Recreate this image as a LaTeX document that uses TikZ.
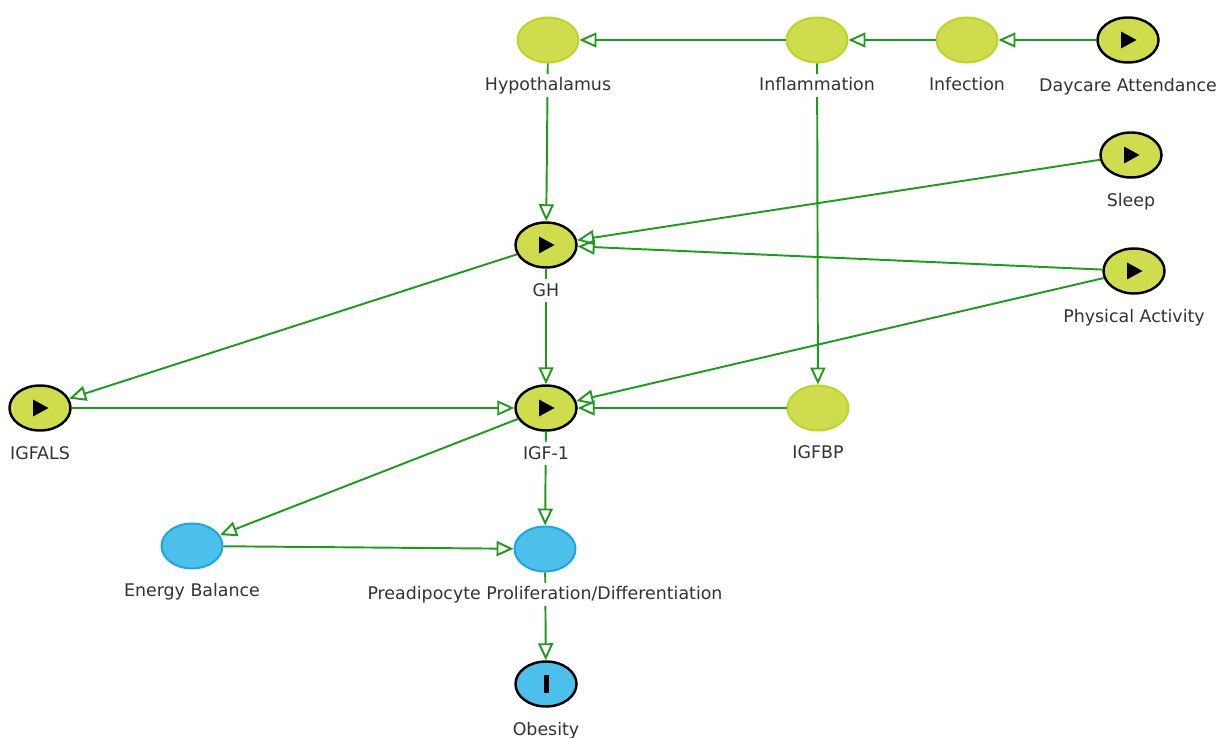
\documentclass[tikz,border=0pt]{standalone}
\usepackage{fontspec}
\setmainfont{DejaVu Sans}
\usetikzlibrary{shapes.geometric,arrows.meta,positioning}

\definecolor{leaffill}{HTML}{CFDC4E}
\definecolor{leafline}{HTML}{BCD42A}
\definecolor{skyfill}{HTML}{4CBFEA}
\definecolor{skyline}{HTML}{1CA5E0}
\definecolor{edgegreen}{HTML}{1E9B1E}
\definecolor{labelgray}{HTML}{333333}

\begin{document}
\begin{tikzpicture}[
      plain/.style={ellipse,
                    draw=leafline,
                    line width=1.1pt,
                    fill=leaffill,
                    inner sep=0pt,
                    minimum width=1.22cm,
                    minimum height=0.9cm},
      ancestor/.style={plain,
                    draw=skyline,
                    fill=skyfill},
      exposure/.style={plain,
                    draw=black,
                    line width=1.4pt,
                    path picture={\fill[black] ([xshift=-0.14cm,yshift=0.17cm]path picture bounding box.center)
                                  -- ++(0.31cm,-0.17cm) -- ++(-0.31cm,-0.17cm) -- cycle;}},
      outcome/.style={ancestor,
                    draw=black,
                    line width=1.4pt,
                    path picture={\fill[black] ([xshift=-0.05cm,yshift=-0.18cm]path picture bounding box.center)
                                  rectangle ++(0.1cm,0.36cm);}},
      caption/.style={fill=white,
                    inner sep=1pt,
                    text=labelgray,
                    text height=1.6ex,
                    text depth=0.45ex,
                    font=\fontsize{9.9}{12}\selectfont},
      causes/.style={draw=edgegreen,
                    line width=1.1pt,
                    -{Triangle[open,length=0.34cm,width=0.3cm]}}
    ]

    \useasboundingbox (0,0) rectangle (24.34,-14.76);

    \draw (10.96,-0.80)
          node[plain]
          (hypothalamus) {};
    \draw (16.34,-0.80)
          node[plain]
          (inflammation) {};
    \draw (19.34,-0.80)
          node[plain]
          (infection) {};
    \draw (22.56,-0.80)
          node[exposure]
          (daycare) {};
    \draw (22.62,-3.10)
          node[exposure]
          (sleep) {};
    \draw (10.92,-4.90)
          node[exposure]
          (gh) {};
    \draw (22.68,-5.42)
          node[exposure]
          (activity) {};
    \draw (0.80,-8.16)
          node[exposure]
          (igfals) {};
    \draw (10.92,-8.16)
          node[exposure]
          (igf) {};
    \draw (16.36,-8.16)
          node[plain]
          (igfbp) {};
    \draw (3.84,-10.92)
          node[ancestor]
          (energy) {};
    \draw (10.90,-10.98)
          node[ancestor]
          (preadipocyte) {};
    \draw (10.92,-13.68)
          node[outcome]
          (obesity) {};

    \draw [causes] (inflammation) to (hypothalamus);
    \draw [causes] (infection)    to (inflammation);
    \draw [causes] (daycare)      to (infection);
    \draw [causes] (hypothalamus) to (gh);
    \draw [causes] (inflammation) to (igfbp);
    \draw [causes] (sleep)        to (gh);
    \draw [causes] (activity)     to (gh);
    \draw [causes] (activity)     to (igf);
    \draw [causes] (gh)           to (igfals);
    \draw [causes] (gh)           to (igf);
    \draw [causes] (igfals)       to (igf);
    \draw [causes] (igfbp)        to (igf);
    \draw [causes] (igf)          to (energy);
    \draw [causes] (igf)          to (preadipocyte);
    \draw [causes] (energy)       to (preadipocyte);
    \draw [causes] (preadipocyte) to (obesity);

    \node[caption, below=0.2cm of hypothalamus] (hypothalamuslabel) {Hypothalamus};
    \node[caption, below=0.2cm of inflammation] (inflammationlabel) {Inflammation};
    \node[caption, below=0.2cm of infection]    (infectionlabel)    {Infection};
    \node[caption, below=0.2cm of daycare]      (daycarelabel)      {Daycare Attendance};
    \node[caption, below=0.2cm of sleep]        (sleeplabel)        {Sleep};
    \node[caption, below=0.2cm of gh]           (ghlabel)           {GH};
    \node[caption, below=0.2cm of activity]     (activitylabel)     {Physical Activity};
    \node[caption, below=0.2cm of igfals]       (igfalslabel)       {IGFALS};
    \node[caption, below=0.2cm of igf]          (igflabel)          {IGF-1};
    \node[caption, below=0.2cm of igfbp]        (igfbplabel)        {IGFBP};
    \node[caption, below=0.2cm of energy]       (energylabel)       {Energy Balance};
    \node[caption, below=0.2cm of preadipocyte] (preadipocytelabel) {Preadipocyte Proliferation/Differentiation};
    \node[caption, below=0.2cm of obesity]      (obesitylabel)      {Obesity};

\end{tikzpicture}
\end{document}
